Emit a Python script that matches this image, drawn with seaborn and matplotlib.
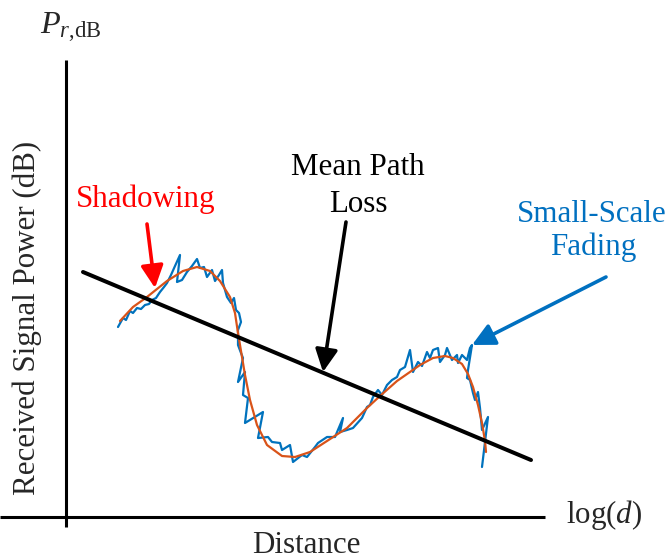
import matplotlib
matplotlib.use("Agg")
import matplotlib.pyplot as plt
import seaborn as sns
import pandas as pd

# Schematic canvas units: x grows with distance, y is screen-like (down = lower power)
fading_x = [118, 123, 126, 130, 133, 137, 141, 145, 149, 152,
            156, 160, 164, 167, 171, 175, 180, 177, 182, 187,
            192, 197, 200, 204, 207, 212, 215, 219, 222, 223,
            227, 231, 234, 236, 239, 241, 238, 238, 241, 243,
            238, 245, 243, 248, 245, 263, 258, 268, 272, 280,
            282, 290, 293, 302, 307, 315, 318, 327, 335, 343,
            340, 347, 353, 362, 367, 370, 373, 378, 382, 387,
            392, 397, 400, 405, 410, 413, 418, 422, 427, 430,
            433, 438, 440, 445, 447, 452, 457, 458, 462, 467,
            470, 472, 468, 467, 470, 473, 475, 478, 480, 482,
            488, 482]
fading_y = [327, 318, 320, 311, 313, 308, 309, 305, 304, 300,
            298, 292, 287, 283, 275, 266, 255, 282, 280, 272,
            266, 259, 268, 267, 277, 270, 281, 275, 270, 283,
            297, 303, 298, 310, 313, 322, 330, 345, 353, 358,
            382, 372, 395, 398, 423, 412, 438, 437, 442, 443,
            450, 445, 462, 455, 457, 447, 443, 437, 437, 418,
            432, 430, 428, 418, 407, 405, 397, 390, 395, 385,
            380, 377, 370, 367, 350, 372, 362, 366, 352, 358,
            350, 348, 362, 355, 348, 360, 355, 363, 355, 360,
            348, 345, 370, 378, 380, 393, 400, 392, 408, 430,
            417, 467]

shadow_x = [120, 133, 147, 167, 183, 197, 210, 220, 230, 235,
            238, 242, 245, 250, 257, 267, 282, 295, 310, 327,
            347, 367, 380, 397, 420, 433, 445, 453, 462, 468,
            473, 478, 482, 485, 486]
shadow_y = [321, 307, 297, 281, 271, 267, 271, 281, 297, 313,
            333, 357, 375, 400, 425, 445, 456, 457, 452, 441,
            428, 408, 396, 381, 365, 358, 356, 358, 364, 374,
            387, 405, 423, 441, 452]

pathloss_x = [83, 531]
pathloss_y = [272, 460]

BLUE_LINE = "#0072BD"
ORANGE_LINE = "#D95319"
BLUE_TEXT = "#0070C0"
RED = "#FF0000"

sns.set_theme(style="white")
plt.rcParams["font.family"] = ["Liberation Serif", "DejaVu Serif"]
plt.rcParams["mathtext.fontset"] = "custom"
plt.rcParams["mathtext.rm"] = "Liberation Serif"
plt.rcParams["mathtext.it"] = "Liberation Serif:italic"

FS = 22.3

fig = plt.figure(figsize=(6.72, 5.59), dpi=100)
ax = fig.add_axes([0, 0, 1, 1])

# axes of the sketch
ax.plot([66, 66], [60, 527], color="black", lw=2.2, solid_capstyle="butt")
ax.plot([0, 545], [517, 517], color="black", lw=2.2, solid_capstyle="butt")

fading = pd.DataFrame({"x": fading_x, "y": fading_y})
shadow = pd.DataFrame({"x": shadow_x, "y": shadow_y})
pathloss = pd.DataFrame({"x": pathloss_x, "y": pathloss_y})

sns.lineplot(data=fading, x="x", y="y", sort=False, estimator=None,
             color=BLUE_LINE, lw=1.6, ax=ax)
sns.lineplot(data=shadow, x="x", y="y", sort=False, estimator=None,
             color=ORANGE_LINE, lw=1.6, ax=ax)
sns.lineplot(data=pathloss, x="x", y="y", sort=False, estimator=None,
             color="black", lw=2.9, ax=ax)
ax.set_xlim(0, 672)
ax.set_ylim(559, 0)
ax.axis("off")

def pointer(tail, tip, color):
    ax.annotate("", xy=tip, xytext=tail,
                arrowprops=dict(arrowstyle="-|>,head_length=0.4,head_width=0.2",
                                mutation_scale=34, lw=2.6, color=color,
                                shrinkA=0, shrinkB=0))

pointer((147, 224), (155, 288), RED)
pointer((346, 222), (323, 372), "black")
pointer((606, 277), (472, 345), BLUE_TEXT)

ax.text(146, 207, "Shadowing", color=RED, ha="center", va="baseline", fontsize=FS)
ax.text(358, 175, "Mean Path", color="black", ha="center", va="baseline", fontsize=FS)
ax.text(358, 212, "Loss", color="black", ha="center", va="baseline", fontsize=FS)
ax.text(592, 222, "Small-Scale", color=BLUE_TEXT, ha="center", va="baseline", fontsize=FS)
ax.text(593, 255, "Fading", color=BLUE_TEXT, ha="center", va="baseline", fontsize=FS)

ax.text(40, 33, r"$P_{r{,}\mathrm{dB}}$", ha="left", va="baseline", fontsize=FS + 1)
ax.text(566, 523, r"$\mathrm{log}(d)$", ha="left", va="baseline", fontsize=FS)
ax.text(306, 553, "Distance", ha="center", va="baseline", fontsize=FS)
ax.text(27, 318, "Received Signal Power (dB)", rotation=90,
        ha="center", va="center", fontsize=FS)

fig.savefig("out.png", dpi=100)
